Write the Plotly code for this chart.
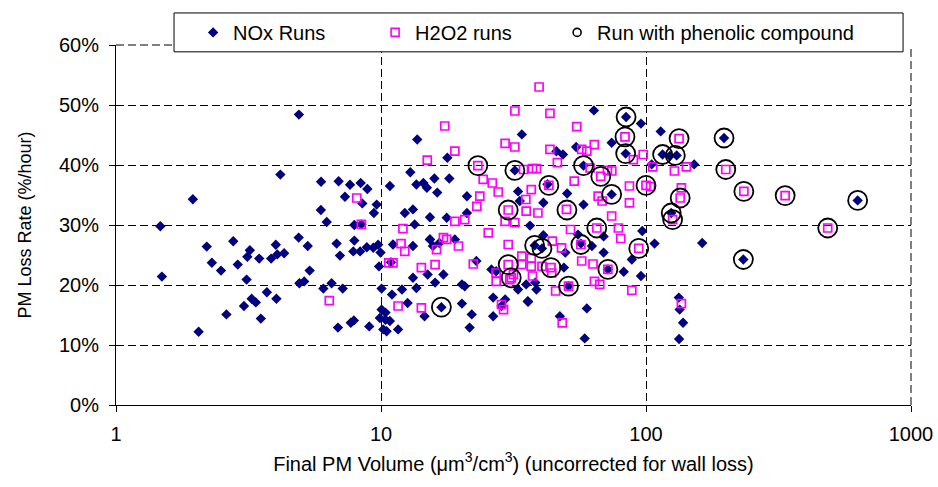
import plotly.graph_objects as go

# NOx runs: final PM volume (um3/cm3) and PM loss rate (%/hour)
nox_vol = [4.90, 4.17, 1.95, 1.47, 1.49, 2.05, 2.20, 2.30, 2.49, 2.77, 2.61, 2.88, 3.11, 3.20, 3.13,
           3.47, 3.04, 3.25, 3.37, 3.52, 3.71, 4.03, 3.85, 4.01, 4.06, 4.31, 4.89, 5.29, 5.38, 4.92,
           5.13, 5.94, 5.93, 6.24, 6.06, 6.51, 7.17, 6.80, 7.00, 6.92, 7.64, 8.38, 8.88, 7.31, 8.50,
           9.63, 9.40, 7.93, 8.43, 7.93, 7.86, 8.34, 8.84, 9.35, 9.75, 9.96, 9.83, 10.05, 6.88, 7.69,
           7.90, 9.03, 10.05, 10.4, 10.2, 10.8,
           34.0, 13.7, 17.8, 32.0, 12.9, 13.6, 14.45, 14.9, 15.9, 18.1, 16.3, 21.1, 32.9, 33.4, 12.3,
           13.2, 15.3, 21.1, 13.4, 15.3, 17.7, 15.3, 19.0, 11.1, 13.2, 17.2, 15.0, 13.2, 16.0, 22.9,
           13.6, 12.0, 11.0, 20.2, 20.7, 16.9, 12.6, 14.6, 20.2, 22.0, 21.6, 10.4, 9.9, 10.8, 10.5,
           11.6, 28.5, 26.5, 29.4, 35.9, 26.5, 26.1, 35.3, 32.9, 38.0, 40.5, 15.7, 16.6, 10.9, 36.5,
           27.2, 38.2, 38.6, 35.8,
           63.6, 84.1, 95.7, 113.6, 74.2, 54.5, 45.9, 48.6, 83.8, 115.5, 130.5, 123.0, 152.0, 105.0,
           58.1, 74.2, 50.4, 124.5, 41.0, 58.1, 41.0, 55.4, 69.2, 96.8, 107.7, 49.6, 69.2, 62.5, 88.4,
           82.4, 95.7, 49.0, 59.8, 47.3, 58.7, 133.0, 138.0, 133.3, 163.0, 71.8, 51.0, 56.8, 42.5,
           134.0, 197.0, 233.0, 629.0]
nox_rate = [48.4, 38.4, 34.3, 29.8, 21.4, 12.2, 26.4, 23.7, 22.4, 27.3, 15.1, 23.4, 20.9, 25.8, 24.7,
            24.4, 16.5, 17.7, 17.1, 14.4, 18.8, 17.7, 24.4, 26.7, 25.1, 25.3, 27.9, 26.5, 22.4, 20.3,
            20.6, 37.2, 32.5, 30.5, 19.4, 20.3, 19.4, 26.9, 24.9, 37.3, 36.7, 37.0, 36.0, 34.7, 33.6,
            33.4, 32.0, 30.0, 30.1, 27.4, 25.6, 25.6, 26.3, 26.2, 26.7, 25.4, 23.1, 19.4, 12.9, 13.7,
            14.1, 13.1, 15.9, 14.2, 12.6, 36.5,
            45.1, 44.25, 41.2, 39.1, 38.8, 36.75, 37.0, 36.2, 37.75, 37.75, 35.4, 34.8, 35.6, 34.0, 32.0,
            32.6, 31.3, 32.0, 30.1, 27.6, 31.2, 27.6, 27.6, 26.75, 26.5, 21.75, 21.75, 21.2, 20.4, 24.0,
            19.5, 19.25, 18.4, 20.1, 19.8, 16.3, 17.0, 14.8, 16.9, 15.1, 12.9, 15.4, 14.5, 14.0, 12.3,
            12.6, 16.5, 17.9, 17.6, 17.2, 14.8, 22.6, 20.1, 19.25, 26.6, 26.1, 26.5, 27.0, 23.8, 29.9,
            22.3, 20.4, 19.25, 17.3,
            49.1, 48.0, 46.9, 45.6, 43.7, 43.0, 42.3, 41.75, 41.9, 41.75, 41.6, 41.5, 40.1, 40.1,
            39.9, 35.1, 35.25, 32.0, 33.7, 33.4, 28.3, 28.4, 28.1, 29.0, 26.9, 25.4, 25.4, 26.5, 24.25,
            22.2, 21.5, 22.9, 16.1, 14.8, 11.1, 17.9, 13.7, 11.0, 27.0, 22.6, 19.8, 26.9, 36.8,
            15.9, 44.5, 24.25, 34.1]

# H2O2 runs
h2o2_vol = [8.1, 8.43, 6.38, 10.7,
            32.0, 39.5, 17.4, 29.4, 32.0, 19.0, 14.95, 23.2, 34.5, 37.3, 24.3, 26.3, 27.7, 23.6, 23.0,
            36.9, 35.2, 30.2, 12.1, 19.0, 20.7, 17.2, 17.7, 19.6, 16.2, 11.9, 12.3, 11.1, 14.2, 16.0,
            22.3, 11.6, 14.2, 28.5, 29.0, 30.2, 31.0, 25.4, 30.2, 29.4, 32.0, 27.2, 27.2, 34.0, 36.9,
            37.3, 35.3, 39.1, 34.0, 36.9, 30.6, 31.6,
            43.4, 54.8, 83.3, 133.3, 63.8, 43.4, 57.2, 59.8, 97.6, 89.6, 142.0, 128.0, 106.0, 46.3,
            38.6, 61.5, 67.5, 71.5, 74.3, 43.0, 100.0, 104.0, 53.6, 86.6, 86.6, 136.0, 134.6, 66.0,
            68.3, 50.1, 126.0, 51.9, 78.7, 80.3, 74.2, 65.2, 44.3, 48.0, 57.2, 63.1, 40.5, 44.1, 63.9,
            66.9, 88.4, 45.6, 136.0, 48.3, 93.9, 43.8, 51.0, 71.8, 56.8, 200.0, 234.0, 335.0, 485.0]
h2o2_rate = [34.5, 30.1, 17.4, 23.7,
             49.0, 53.0, 46.5, 43.6, 43.0, 42.3, 40.8, 39.9, 39.25, 39.4, 37.6, 37.0, 35.5, 34.8, 33.1,
             35.9, 34.25, 32.5, 29.4, 30.6, 30.9, 27.9, 27.6, 26.5, 25.9, 26.9, 25.6, 23.7, 22.9, 23.4,
             23.5, 16.5, 16.2, 16.75, 15.9, 23.4, 21.2, 28.7, 26.75, 30.6, 30.4, 22.0, 20.6, 23.4, 23.1,
             21.5, 32.3, 32.0, 24.8, 24.5, 20.9, 21.75,
             48.6, 46.4, 44.7, 44.4, 43.4, 42.6, 42.6, 42.3, 41.75, 40.9, 39.7, 39.0, 39.7, 40.4,
             39.4, 39.5, 38.1, 39.1, 39.0, 36.6, 36.6, 36.4, 37.3, 36.5, 33.7, 36.2, 34.5, 34.8,
             34.0, 32.6, 30.9, 29.25, 29.5, 27.75, 31.5, 29.5, 27.3, 26.2, 24.0, 23.5, 23.1, 22.0, 20.6,
             20.1, 19.1, 19.0, 16.9, 13.7, 26.1, 22.9, 19.8, 22.6, 26.75, 39.25, 35.6, 34.9, 29.5]

# Runs that included a phenolic compound (circled)
phen_vol = [16.9, 23.2, 32.0, 30.2, 30.2, 31.0, 38.0, 40.5, 43.0, 43.8, 50.3, 51.0, 56.8, 58.1,
            65.2, 67.5, 74.2, 71.8, 84.1, 83.3, 83.8, 93.9, 100.0, 115.5, 129.0, 133.3, 134.6,
            124.5, 126.0, 197.0, 200.0, 234.0, 233.0, 335.0, 485.0, 629.0]
phen_rate = [16.3, 39.9, 39.1, 32.5, 23.4, 21.2, 26.6, 26.1, 36.6, 22.9, 32.5, 19.8, 26.75, 39.9,
             29.5, 38.1, 35.1, 22.6, 48.0, 44.7, 41.9, 26.1, 36.6, 41.75, 41.6, 44.4, 34.5,
             32.0, 30.9, 44.5, 39.25, 35.6, 24.25, 34.9, 29.5, 34.1]

series_names = ["NOx Runs", "H2O2 runs", "Run with phenolic compound"]

y_ticks = [0, 0.1, 0.2, 0.3, 0.4, 0.5, 0.6]
x_ticks = [1, 10, 100, 1000]

NAVY = "#000080"
MAGENTA = "#FF00FF"
FONT = "Liberation Sans, Arial, sans-serif"


def frac(vals):
    return [v / 100.0 for v in vals]


fig = go.Figure()

fig.add_trace(go.Scatter(
    x=nox_vol, y=frac(nox_rate), mode="markers", showlegend=False,
    marker=dict(symbol="diamond", size=8, color=NAVY, line=dict(width=0)),
))
fig.add_trace(go.Scatter(
    x=h2o2_vol, y=frac(h2o2_rate), mode="markers", showlegend=False,
    marker=dict(symbol="square-open", size=8, color=MAGENTA, line=dict(width=1.7, color=MAGENTA)),
))
fig.add_trace(go.Scatter(
    x=phen_vol, y=frac(phen_rate), mode="markers", showlegend=False,
    marker=dict(symbol="circle-open", size=19, color="black", line=dict(width=1.8, color="black")),
))

# legend entries with compact symbols
legend_markers = [
    dict(symbol="diamond", size=8, color=NAVY, line=dict(width=0)),
    dict(symbol="square-open", size=8, color=MAGENTA, line=dict(width=1.6, color=MAGENTA)),
    dict(symbol="circle-open", size=8, color="black", line=dict(width=1.6, color="black")),
]
legend_widths = [None, None, 300]
for name, mk, lw in zip(series_names, legend_markers, legend_widths):
    fig.add_trace(go.Scatter(x=[None], y=[None], mode="markers", name=name, marker=mk,
                             legendwidth=lw))

# legend frame, plus dashed top and right borders of the plot area
fig.add_shape(type="rect", xref="paper", yref="paper", x0=0.073, x1=0.990, y0=0.981, y1=1.089,
              fillcolor="white", line=dict(color="black", width=1), layer="above")
fig.add_shape(type="line", xref="paper", yref="paper", x0=1, x1=1, y0=0, y1=1,
              line=dict(color="black", width=1, dash="8px,4px"), layer="below")
fig.add_shape(type="line", xref="paper", yref="paper", x0=0, x1=0.073, y0=1, y1=1,
              line=dict(color="black", width=1, dash="8px,4px"), layer="below")

fig.update_layout(
    width=938, height=487,
    margin=dict(l=116, r=27, t=45, b=82, autoexpand=False),
    paper_bgcolor="white", plot_bgcolor="white",
    font=dict(family=FONT, size=20, color="black"),
    legend=dict(orientation="h", x=0.097, y=1.035, xanchor="left", yanchor="middle",
                bgcolor="rgba(0,0,0,0)", borderwidth=0, entrywidth=137, entrywidthmode="pixels",
                font=dict(family=FONT, size=20, color="black")),
    xaxis=dict(
        type="log", range=[0, 3], tickvals=x_ticks, ticktext=[str(v) for v in x_ticks],
        showgrid=True, gridcolor="black", gridwidth=1, griddash="8px,4px",
        showline=True, linecolor="black", linewidth=1, ticks="outside", ticklen=6, tickcolor="black",
        zeroline=False, ticklabelstandoff=5, ticklabeloverflow="allow", automargin=False,
        title=dict(text="Final PM Volume (\u03bcm<sup>3</sup>/cm<sup>3</sup>) (uncorrected for wall loss)",
                   font=dict(family=FONT, size=20), standoff=12),
    ),
    yaxis=dict(
        range=[0, 0.6], tickvals=y_ticks, tickformat=".0%",
        showgrid=True, gridcolor="black", gridwidth=1, griddash="8px,4px",
        showline=True, linecolor="black", linewidth=1, ticks="outside", ticklen=6, tickcolor="black",
        zeroline=False, ticklabelstandoff=6, automargin=False,
        title=dict(text="PM Loss Rate (%/hour)", font=dict(family=FONT, size=18), standoff=22),
    ),
)

fig.write_html("out.html")
